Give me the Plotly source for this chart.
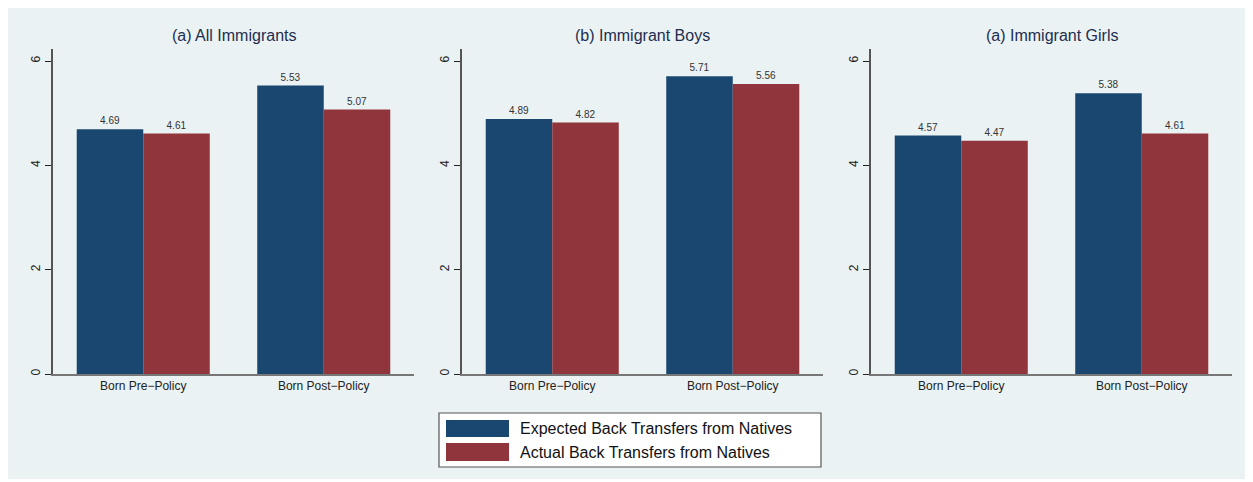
import plotly.graph_objects as go

categories = ["Born Pre\u2212Policy", "Born Post\u2212Policy"]
panel_titles = ["(a) All Immigrants", "(b) Immigrant Boys", "(a) Immigrant Girls"]
expected = [[4.69, 5.53], [4.89, 5.71], [4.57, 5.38]]
actual = [[4.61, 5.07], [4.82, 5.56], [4.47, 4.61]]
series_names = ["Expected Back Transfers from Natives", "Actual Back Transfers from Natives"]
y_ticks = [0, 2, 4, 6]

BLUE = "#1A476F"
RED = "#90353B"
BG = "#EAF2F3"
OFF = 8  # page body margin offset
W, H = 1253 - OFF, 482 - OFF
ML, MR, MT, MB = 53 - OFF, 21, 49 - OFF, 108
PW = W - ML - MR
PH = H - MT - MB

panels_px = [(53, 414), (462, 823), (871, 1232)]

fig = go.Figure()
layout = dict()
for i in range(3):
    xa = "x" if i == 0 else f"x{i+1}"
    ya = "y" if i == 0 else f"y{i+1}"
    for vals, name, col in [(expected[i], series_names[0], BLUE), (actual[i], series_names[1], RED)]:
        fig.add_trace(go.Bar(
            x=categories, y=vals, name=name, marker=dict(color=col, line=dict(width=0)),
            text=[f"{v:.2f}" for v in vals], textposition="outside",
            textfont=dict(size=10, color="#333333", family="Liberation Sans, Arial"),
            cliponaxis=False, xaxis=xa, yaxis=ya, showlegend=False,
        ))
    x0, x1 = panels_px[i]
    dom = [(x0 - OFF - ML) / PW, (x1 - OFF - ML) / PW]
    layout[f"xaxis{'' if i == 0 else i+1}"] = dict(
        domain=dom, anchor=ya, range=[-0.5, 1.5], showline=True, linecolor="#777777", linewidth=2,
        ticks="", tickfont=dict(size=12, color="#222222", family="Liberation Sans, Arial"),
        showgrid=False, fixedrange=True,
    )
    layout[f"yaxis{'' if i == 0 else i+1}"] = dict(
        domain=[0, 1], anchor=xa, range=[0, 6.23], tickvals=y_ticks, tickangle=-90,
        showline=True, linecolor="#555555", linewidth=1.5, ticks="outside", ticklen=6, tickcolor="#222222",
        tickfont=dict(size=12, color="#222222", family="Liberation Sans, Arial"),
        showgrid=True, gridcolor=BG, gridwidth=1, zeroline=False,
    )

fig.update_layout(**layout)
fig.update_layout(
    width=W, height=H, margin=dict(l=ML, r=MR, t=MT, b=MB, pad=0),
    paper_bgcolor="white", plot_bgcolor="white",
    barmode="group", bargap=0.263, bargroupgap=0,
    showlegend=False,
)

def px_x(p):
    return (p - OFF - ML) / PW

def px_y(p):
    return (H - MB - (p - OFF)) / PH

shapes = []
shapes.append(dict(type="rect", xref="paper", yref="paper", x0=px_x(7), x1=px_x(1247), y0=px_y(479), y1=px_y(4),
                   fillcolor=BG, line=dict(width=0), layer="below"))
shapes.append(dict(type="rect", xref="paper", yref="paper", x0=px_x(439), x1=px_x(821), y0=px_y(467), y1=px_y(413),
                   fillcolor="white", line=dict(color="#555555", width=1.2)))
legend_rows = [(420, 437), (443, 461)]
for (ya0, ya1), col in zip(legend_rows, [BLUE, RED]):
    shapes.append(dict(type="rect", xref="paper", yref="paper", x0=px_x(446), x1=px_x(509), y0=px_y(ya1), y1=px_y(ya0),
                       fillcolor=col, line=dict(width=0)))
fig.update_layout(shapes=shapes)

annotations = []
for i, t in enumerate(panel_titles):
    x0, x1 = panels_px[i]
    annotations.append(dict(text=t, xref="paper", yref="paper", x=px_x((x0 + x1) / 2), y=px_y(36),
                            showarrow=False, xanchor="center", yanchor="middle",
                            font=dict(size=16, color="#1E2D50", family="Liberation Sans, Arial")))
for (ya0, ya1), name in zip(legend_rows, series_names):
    annotations.append(dict(text=name, xref="paper", yref="paper", x=px_x(518), y=px_y((ya0 + ya1) / 2),
                            showarrow=False, xanchor="left", yanchor="middle",
                            font=dict(size=16, color="#111111", family="Liberation Sans, Arial")))
fig.update_layout(annotations=annotations)

fig.write_html("out.html")
